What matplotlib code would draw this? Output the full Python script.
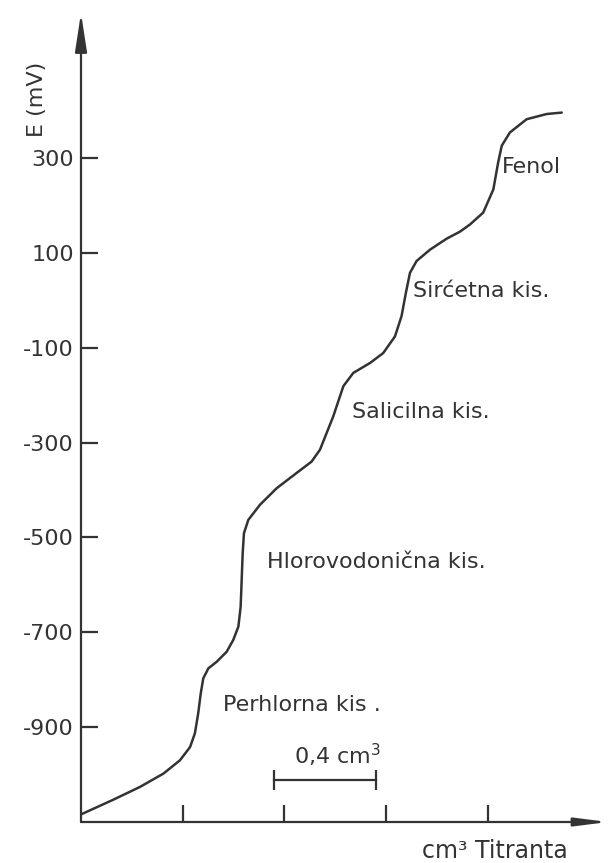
import numpy as np
import matplotlib.pyplot as plt

# titration curve (cm3 titrant, mV)
vol = [0.0, 0.127, 0.232, 0.324, 0.389, 0.429, 0.448, 0.461, 0.471, 0.481,
       0.501, 0.534, 0.573, 0.599, 0.619, 0.628, 0.632, 0.636, 0.641, 0.658,
       0.704, 0.770, 0.848, 0.907, 0.940, 0.966, 0.992, 1.032, 1.071, 1.137,
       1.189, 1.235, 1.261, 1.278, 1.294, 1.320, 1.373, 1.438, 1.491, 1.530,
       1.582, 1.622, 1.641, 1.655, 1.687, 1.753, 1.832, 1.891]
emf = [-1084, -1053, -1026, -998, -970, -942, -913, -871, -829, -797,
       -776, -762, -741, -716, -688, -646, -590, -533, -491, -463,
       -431, -396, -364, -340, -315, -280, -245, -181, -153, -132,
       -111, -76, -33, 16, 58, 83, 107, 130, 145, 160,
       185, 234, 291, 326, 354, 382, 393, 396]

yticks = [300, 100, -100, -300, -500, -700, -900]
ytick_labels = ['300', '100', '-100', '-300', '-500', '-700', '-900']
xticks = [0.4, 0.8, 1.2, 1.6]

acids = ['Fenol', 'Sirćetna kis.', 'Salicilna kis.', 'Hlorovodonična kis.', 'Perhlorna kis .']
acid_x = [1.656, 1.306, 1.066, 0.732, 0.558]
acid_y = [281, 19, -235, -552, -854]

ink = '#333333'
plt.rcParams['font.family'] = ['DejaVu Sans']

fig = plt.figure(figsize=(6.11, 8.63), dpi=100)
ax = fig.add_axes([81/611, 41/863, (608-81)/611, (822-13)/863])
ax.set_xlim(0, 2.073)
ax.set_ylim(-1100, 606)

ax.plot(vol, emf, color=ink, lw=1.8, solid_capstyle='round', solid_joinstyle='round')

for s in ax.spines.values():
    s.set_visible(False)

# axes with arrow heads
ax.annotate('', xy=(0, 1), xytext=(0, 0), xycoords='axes fraction',
            arrowprops=dict(arrowstyle='-|>,head_length=1.3,head_width=0.2',
                            color=ink, lw=1.6, shrinkA=0, shrinkB=0, mutation_scale=18))
ax.annotate('', xy=(1, 0), xytext=(0, 0), xycoords='axes fraction',
            arrowprops=dict(arrowstyle='-|>,head_length=1.1,head_width=0.14',
                            color=ink, lw=1.6, shrinkA=0, shrinkB=0, mutation_scale=18))

ax.set_yticks(yticks)
ax.set_yticklabels(ytick_labels)
ax.set_xticks(xticks)
ax.set_xticklabels([])
ax.tick_params(axis='y', direction='in', length=12, width=1.6, color=ink,
               labelsize=16, labelcolor=ink, pad=5)
ax.tick_params(axis='x', direction='in', length=12, width=1.6, color=ink)

for name, x, y in zip(acids, acid_x, acid_y):
    ax.text(x, y, name, ha='left', va='center', fontsize=16, color=ink)

# scale bar 0.4 cm3
ax.plot([0.76, 1.16], [-1012, -1012], color=ink, lw=1.6)
ax.plot([0.76, 1.16], [-1012, -1012], ls='none', marker='|', ms=14, mew=1.6, color=ink)
ax.text(1.011, -960, '0,4 cm$^3$', ha='center', va='center', fontsize=16, color=ink)

fig.text(37/611, 1 - 99/863, 'E (mV)', rotation=90, ha='center', va='center',
         fontsize=16, color=ink)
fig.text(495/611, 1 - 851/863, 'cm³ Titranta', ha='center', va='center',
         fontsize=17, color=ink)

fig.savefig('out.png', dpi=100)
